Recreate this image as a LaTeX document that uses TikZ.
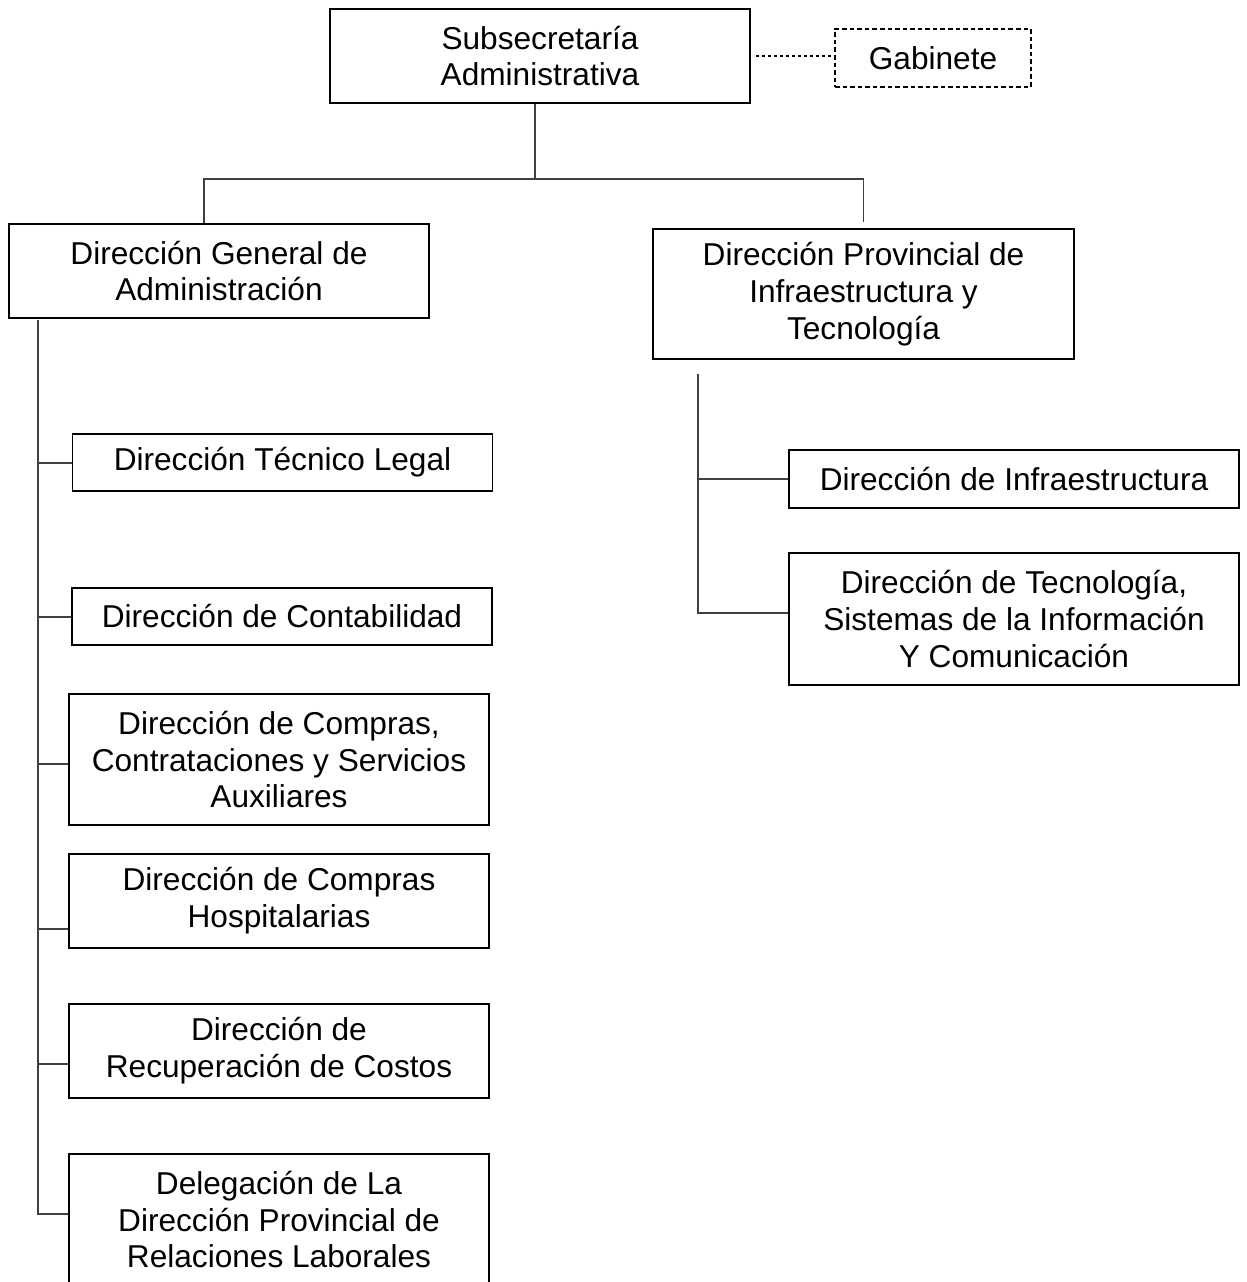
\documentclass[tikz,border=0pt]{standalone}
\usepackage{fontspec}
\setmainfont{Liberation Sans}
\newcommand{\pxu}{0.02cm}
\begin{document}
\begin{tikzpicture}[
    x=0.02cm, y=-0.02cm,
    every node/.style={font=\fontsize{18}{21}\selectfont, align=center, inner sep=0pt},
    unit/.style={draw=black, line width=1.1pt, minimum width=420*\pxu, minimum height=94*\pxu},
    wideunit/.style={unit, minimum width=450*\pxu},
    advisory/.style={draw=black, line width=1pt, dash pattern=on 2.6pt off 1.7pt},
    link/.style={draw=black!75, line width=0.7pt}
  ]
  \useasboundingbox (0,0) rectangle (1247,1282);
  \node[unit] (sub) at (540,56) {Subsecretaría\\Administrativa};
  \node[advisory, minimum width=196*\pxu, minimum height=58*\pxu] (gab) at (933,58) {Gabinete};
  \node[unit] (dga) at (219,271) {Dirección General de\\Administración};
  \node[unit, minimum width=421*\pxu, minimum height=130*\pxu] (dpit) at (863.5,294) {Dirección Provincial de\\Infraestructura y\\Tecnología};
  \node[unit, minimum height=57*\pxu] (tec) at (282.5,462.5) {Dirección Técnico Legal};
  \node[unit, minimum height=57*\pxu] (cont) at (282,616.5) {Dirección de Contabilidad};
  \node[unit, minimum height=131*\pxu] (comp) at (279,759.5) {Dirección de Compras,\\Contrataciones y Servicios\\Auxiliares};
  \node[unit] (hosp) at (279,901) {Dirección de Compras\\Hospitalarias};
  \node[unit] (recu) at (279,1051) {Dirección de\\Recuperación de Costos};
  \node[unit, minimum height=131*\pxu] (dele) at (279,1219.5) {Delegación de La\\Dirección Provincial de\\Relaciones Laborales};
  \node[wideunit, minimum height=58*\pxu] (infra) at (1014,479) {Dirección de Infraestructura};
  \node[wideunit, minimum height=132*\pxu] (tecn) at (1014,619) {Dirección de Tecnología,\\Sistemas de la Información\\Y Comunicación};
  \coordinate (fork) at (535,179);
  \coordinate (lspine) at (38,320);
  \coordinate (rspine) at (698,374);
  \draw[link] (sub.south -| fork) -- (fork);
  \draw[link] (fork) -| ([xshift=-15*\pxu]dga.north);
  \draw[link] (fork) -| ([yshift=6*\pxu]dpit.north);
  \draw[advisory, line width=0.7pt, dash pattern=on 2pt off 1.4pt] ([xshift=5*\pxu]sub.east) -- (sub.east -| gab.west);
  \foreach \n/\y in {tec/463,cont/617,comp/764,hosp/929,recu/1064,dele/1214}
    \draw[link] (\n.west |- 0,\y) -| (lspine);
  \foreach \n/\y in {infra/479,tecn/613}
    \draw[link] (\n.west |- 0,\y) -| (rspine);
\end{tikzpicture}
\end{document}
